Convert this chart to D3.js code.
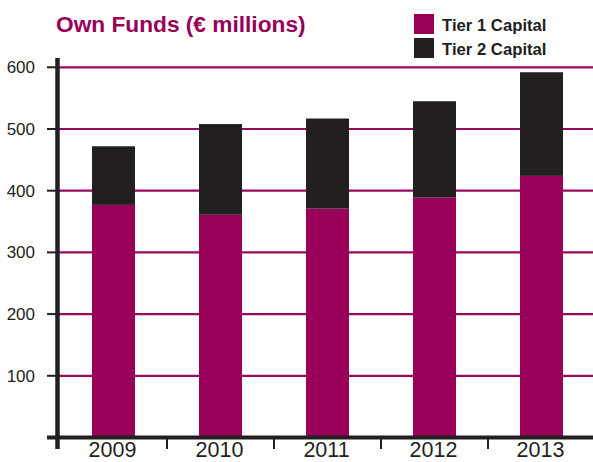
<!DOCTYPE html>
<html>
<head>
<meta charset="utf-8">
<script src="https://cdn.jsdelivr.net/npm/d3@7"></script>
<style>
  html, body { margin: 0; padding: 0; background: #fff; }
  svg { display: block; }
</style>
</head>
<body>
<svg id="chart" width="593" height="462"></svg>
<script>
// Own funds by year, € millions
const years = ["2009", "2010", "2011", "2012", "2013"];
const tier1 = [377, 361, 371, 389, 424];
const tier2 = [95, 147, 146, 156, 168];
const yTicks = [100, 200, 300, 400, 500, 600];
const seriesNames = ["Tier 1 Capital", "Tier 2 Capital"];
const seriesColors = ["#98005a", "#231f20"];

const svg = d3.select("#chart");
const ink = "#231f20";

const x = d3.scaleBand().domain(years).range([60, 595])
  .paddingInner(0.598).paddingOuter(0.299);
const y = d3.scaleLinear().domain([0, 600]).range([437.5, 67.3]);

// stacked layout
const rows = years.map((yr, i) => ({ year: yr, t1: tier1[i], t2: tier2[i] }));
const stack = d3.stack().keys(["t1", "t2"])(rows);

// horizontal gridlines
svg.append("g").selectAll("line").data(yTicks).join("line")
  .attr("x1", 59).attr("x2", 593)
  .attr("y1", d => y(d)).attr("y2", d => y(d))
  .attr("stroke", "#99095f").attr("stroke-width", 2.2);

// bars
svg.append("g").selectAll("g").data(stack).join("g")
  .attr("fill", (d, i) => seriesColors[i])
  .selectAll("rect").data(d => d).join("rect")
  .attr("x", d => x(d.data.year))
  .attr("width", x.bandwidth())
  .attr("y", d => y(d[1]))
  .attr("height", d => y(d[0]) - y(d[1]));

// y axis: labels and ticks
const yAxis = svg.append("g");
yAxis.selectAll("text").data(yTicks).join("text")
  .attr("x", 35).attr("y", d => y(d) + 6)
  .attr("text-anchor", "end")
  .attr("font-family", "Liberation Sans, Arial, sans-serif")
  .attr("font-size", 17).attr("fill", ink)
  .text(d => d);
yAxis.selectAll("line").data(yTicks).join("line")
  .attr("x1", 47).attr("x2", 57)
  .attr("y1", d => y(d)).attr("y2", d => y(d))
  .attr("stroke", ink).attr("stroke-width", 2);

// x axis: baseline, separators, labels
svg.append("line")
  .attr("x1", 47).attr("x2", 593).attr("y1", y(0)).attr("y2", y(0))
  .attr("stroke", ink).attr("stroke-width", 4);
const seps = years.slice(1).map(d => x(d) - x.step() * x.paddingInner() / 2);
svg.append("g").selectAll("line").data(seps).join("line")
  .attr("x1", d => d).attr("x2", d => d)
  .attr("y1", y(0)).attr("y2", 449)
  .attr("stroke", ink).attr("stroke-width", 2);
svg.append("g").selectAll("text").data(years).join("text")
  .attr("x", d => x(d) + x.bandwidth() / 2 - 1)
  .attr("y", 457)
  .attr("text-anchor", "middle")
  .attr("font-family", "Liberation Sans, Arial, sans-serif")
  .attr("font-size", 21.5).attr("fill", ink)
  .text(d => d);

// vertical axis line
svg.append("line")
  .attr("x1", 57.5).attr("x2", 57.5).attr("y1", 58).attr("y2", 449)
  .attr("stroke", ink).attr("stroke-width", 4.5);

// title
svg.append("text")
  .attr("x", 56).attr("y", 31.5)
  .attr("font-family", "Liberation Sans, Arial, sans-serif")
  .attr("font-weight", "bold").attr("font-size", 22.7)
  .attr("fill", "#98005a")
  .text("Own Funds (€ millions)");

// legend
const legend = svg.append("g").selectAll("g").data(seriesNames).join("g")
  .attr("transform", (d, i) => `translate(414, ${14 + i * 24})`);
legend.append("rect")
  .attr("width", 20).attr("height", 20)
  .attr("fill", (d, i) => seriesColors[i]);
legend.append("text")
  .attr("x", 28).attr("y", 16.5)
  .attr("font-family", "Liberation Sans, Arial, sans-serif")
  .attr("font-weight", "bold").attr("font-size", 16.7)
  .attr("fill", ink)
  .text(d => d);
</script>
</body>
</html>
